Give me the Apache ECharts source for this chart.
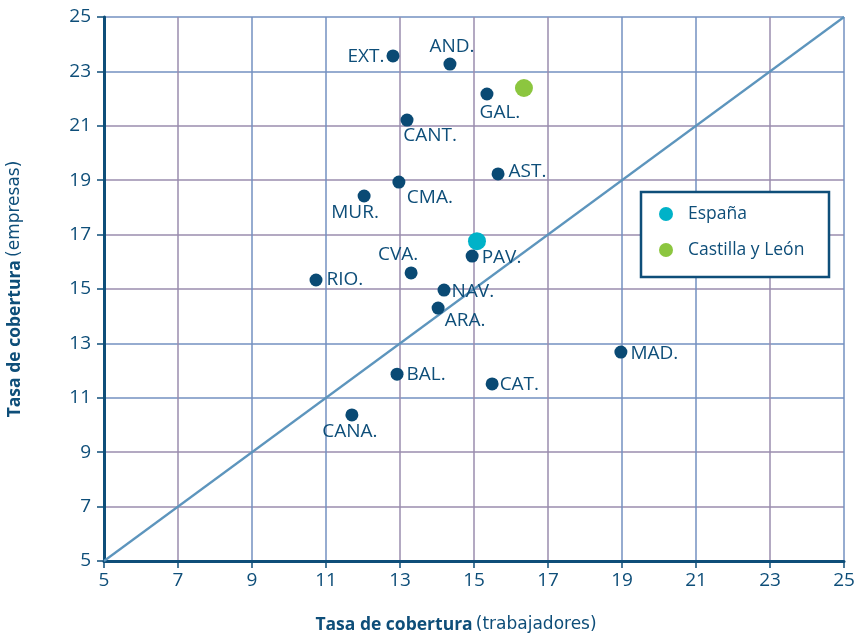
<!DOCTYPE html>
<html><head><meta charset="utf-8">
<script src="https://cdn.jsdelivr.net/npm/echarts@6/dist/echarts.min.js"></script>
<style>html,body{margin:0;padding:0;background:#fff}#c{width:854px;height:638px}</style>
</head><body><div id="c"></div>
<script>
// ---- data ----
const regionNames = ['EXT.','AND.','GAL.','CANT.','AST.','CMA.','MUR.','PAV.','CVA.','RIO.','NAV.','ARA.','MAD.','BAL.','CAT.','CANA.'];
const regionX = [12.81,14.35,15.35,13.19,15.65,12.97,12.03,14.95,13.30,10.73,14.19,14.03,18.97,12.92,15.49,11.70];
const regionY = [23.57,23.27,22.17,21.21,19.23,18.93,18.42,16.21,15.59,15.33,14.96,14.30,12.68,11.87,11.51,10.37];
const espana = [15.08,16.76];
const castillaLeon = [16.35,22.39];
const diagonal = [5,25];
const axisMin = 5, axisMax = 25, axisStep = 2;
const xAxisTitle = ['Tasa de cobertura','(trabajadores)'];
const yAxisTitle = ['Tasa de cobertura','(empresas)'];
const legendNames = ['España','Castilla y León'];

// ---- styles ----
const NAVY = '#0e4e79';
const DOT = '#0a4a74';
const P = '#9a8cae', B = '#7391c0';
const labelStyle = {
  'EXT.':  {position:'left', distance:2, offset:[0,1]},
  'AND.':  {position:'top', offset:[2,4]},
  'GAL.':  {position:'bottom', offset:[13,-2]},
  'CANT.': {position:'bottom', offset:[23,-5]},
  'AST.':  {position:'right', distance:4, offset:[0,-2]},
  'CMA.':  {position:'bottom', offset:[31,-6]},
  'MUR.':  {position:'bottom', offset:[-9,-4]},
  'PAV.':  {position:'right', distance:3, offset:[0,2]},
  'CVA.':  {position:'top', offset:[-13,3]},
  'RIO.':  {position:'right', distance:4, offset:[0,0]},
  'NAV.':  {position:'right', distance:1, offset:[0,2]},
  'ARA.':  {position:'bottom', offset:[27,-8]},
  'MAD.':  {position:'right', distance:3, offset:[0,1]},
  'BAL.':  {position:'right', distance:3, offset:[0,0]},
  'CAT.':  {position:'right', distance:1, offset:[0,1]},
  'CANA.': {position:'bottom', offset:[-2,-4]}
};
const FONT = 'Open Sans';
const NAMEFONT = 'DejaVu Sans';

const regionData = regionNames.map((n,i)=>({
  name:n, value:[regionX[i], regionY[i]],
  label: Object.assign({show:true, formatter:n}, labelStyle[n])
}));

const chart = echarts.init(document.getElementById('c'), null, {renderer:'canvas'});
const axisCommon = {
  type:'value', min:axisMin, max:axisMax, interval:axisStep,
  axisLine:{show:true, onZero:false, lineStyle:{color:NAVY, width:3}},
  axisTick:{show:true, length:7, lineStyle:{color:NAVY, width:1.5}},
  axisLabel:{color:NAVY, fontSize:19, fontFamily:FONT},
  minorTick:{show:false}
};
const richParts = {b:{fontWeight:'bold', fontSize:17.5, color:NAVY, fontFamily:FONT}, n:{fontSize:17, color:NAVY, fontFamily:NAMEFONT}};
chart.setOption({
  animation:false,
  backgroundColor:'#fff',
  textStyle:{fontFamily:FONT},
  grid:{left:104, right:10, top:17, bottom:77, containLabel:false, outerBoundsMode:'none'},
  xAxis: Object.assign({}, axisCommon, {
    axisLabel:Object.assign({}, axisCommon.axisLabel, {margin:10}),
    splitLine:{show:true, lineStyle:{width:1.5, color:[B,P,B,B,P,P,P,B,B,P,B]}},
    name: '{b|'+xAxisTitle[0]+'} {n|'+xAxisTitle[1]+'}',
    nameLocation:'middle', nameGap:55,
    nameTextStyle:{rich:richParts, padding:[0,36,0,0]}
  }),
  yAxis: Object.assign({}, axisCommon, {
    axisLabel:Object.assign({}, axisCommon.axisLabel, {margin:13}),
    splitLine:{show:true, lineStyle:{width:1.5, color:[B,P,P,B,B,P,P,P,P,B,B]}},
    name: '{b|'+yAxisTitle[0]+'} {n|'+yAxisTitle[1]+'}',
    nameLocation:'middle', nameGap:80, nameRotate:90,
    nameTextStyle:{rich:richParts}
  }),
  legend:{
    data:legendNames, orient:'vertical', left:641, top:192,
    icon:'circle', itemWidth:34, itemHeight:14, itemGap:16,
    padding:[12,8,17,18],
    borderColor:NAVY, borderWidth:2.5, backgroundColor:'#fff',
    textStyle:{color:NAVY, fontSize:17.5, fontFamily:FONT, lineHeight:20, width:133},
    selectedMode:false
  },
  series:[
    {type:'line', data:[[diagonal[0],diagonal[0]],[diagonal[1],diagonal[1]]], symbol:'none',
     lineStyle:{color:'#5d95bd', width:2.2}, z:3, silent:true},
    {type:'scatter', name:'regions', data:regionData, symbolSize:13,
     itemStyle:{color:DOT, opacity:1}, z:4,
     label:{color:NAVY, fontSize:19, fontFamily:FONT}},
    {type:'scatter', name:legendNames[0], data:[espana], symbolSize:18, itemStyle:{color:'#00b2c8', opacity:1}, z:5},
    {type:'scatter', name:legendNames[1], data:[castillaLeon], symbolSize:18, itemStyle:{color:'#8cc63f', opacity:1}, z:5}
  ]
});
</script></body></html>
